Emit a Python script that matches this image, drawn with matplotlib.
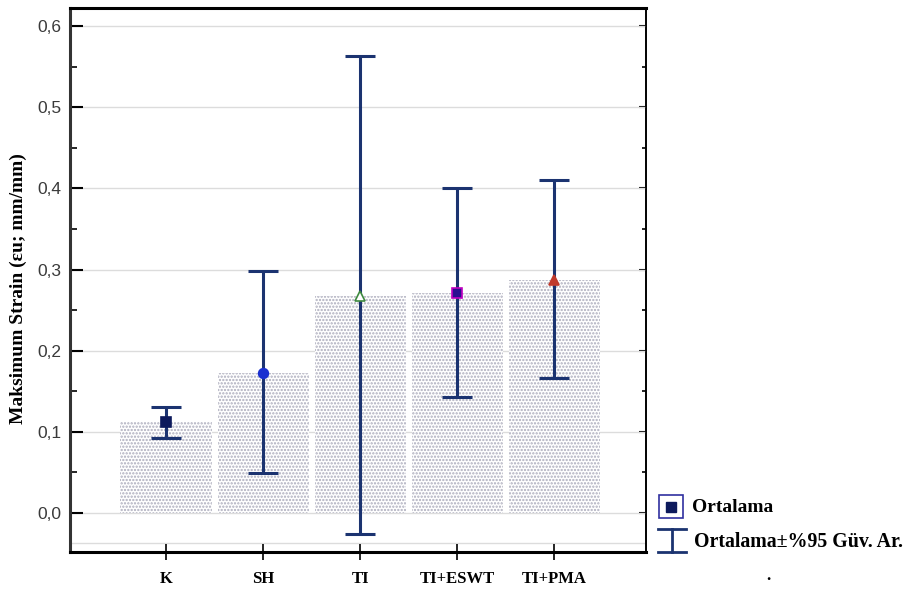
import numpy as np
import matplotlib
matplotlib.use('Agg')
import matplotlib.pyplot as plt
from matplotlib.patches import Rectangle
from matplotlib.lines import Line2D
from matplotlib.ticker import MultipleLocator, FuncFormatter

# Group means and 95% confidence limits
groups = ['K', 'SH', 'TI', 'TI+ESWT', 'TI+PMA']
means = [0.112, 0.173, 0.268, 0.271, 0.287]
ci_low = [0.093, 0.049, -0.026, 0.143, 0.167]
ci_high = [0.131, 0.298, 0.563, 0.400, 0.410]

markers = ['s', 'o', '^', 's', '^']
m_face = ['#0d1a5c', '#1a2fd0', 'white', '#2a1090', '#c0392b']
m_edge = ['#0d1a5c', '#1a2fd0', '#3f8a3f', '#c000c0', '#c0392b']

navy = '#1b3370'
plt.rcParams['hatch.linewidth'] = 1.1

fig = plt.figure(figsize=(9.11, 5.90), dpi=100)
ax = fig.add_axes([0.0768, 0.0644, 0.632, 0.9216])

x = np.arange(len(groups))

# stippled bars
ax.bar(x, means, width=0.94, color='white', edgecolor='#acacbc',
       hatch='.....', linewidth=0, zorder=2)

ax.yaxis.grid(True, color='#dcdcdc', linewidth=1.0, zorder=0)
ax.axhline(-0.037, color='#dcdcdc', linewidth=1.0, zorder=0)

lo = np.array(means) - np.array(ci_low)
hi = np.array(ci_high) - np.array(means)
ax.errorbar(x, means, yerr=[lo, hi], fmt='none', ecolor=navy,
            elinewidth=2.2, capsize=11, capthick=2.2, zorder=3)
for xi, m, mk, fc, ec in zip(x, means, markers, m_face, m_edge):
    ax.plot(xi, m, marker=mk, markersize=7, markerfacecolor=fc,
            markeredgecolor=ec, markeredgewidth=1.2, linestyle='none', zorder=4)

ax.set_xlim(-0.99, 4.94)
ax.set_ylim(-0.048, 0.622)
ax.yaxis.set_major_locator(MultipleLocator(0.1))
ax.yaxis.set_minor_locator(MultipleLocator(0.05))
ax.yaxis.set_major_formatter(FuncFormatter(lambda v, p: f'{v:.1f}'.replace('.', ',')))
ax.set_xticks(x)
ax.set_xticklabels(groups, fontfamily='Liberation Serif', fontweight='bold', fontsize=12)
ax.tick_params(axis='x', direction='inout', length=12, width=1.2, pad=8)
ax.tick_params(axis='y', which='major', direction='in', length=9, width=1.5,
               labelsize=12.5, labelcolor='#3a3a3a', pad=6)
ax.tick_params(axis='y', which='minor', direction='in', length=5, width=1.2)

# short inward ticks on the right frame
axr = ax.secondary_yaxis('right')
axr.yaxis.set_major_locator(MultipleLocator(0.1))
axr.yaxis.set_minor_locator(MultipleLocator(0.05))
axr.tick_params(axis='y', which='major', direction='in', length=5, width=1.5, labelright=False)
axr.tick_params(axis='y', which='minor', direction='in', length=3, width=1.2)
axr.spines['right'].set_linewidth(1.2)

for lab in ax.get_yticklabels():
    lab.set_fontfamily('Liberation Sans')

ax.set_ylabel('Maksimum Strain (εu; mm/mm)', fontfamily='Liberation Serif',
              fontweight='bold', fontsize=14)
ax.yaxis.set_label_coords(-0.074, 0.485)

for side in ['left', 'bottom', 'top']:
    ax.spines[side].set_linewidth(2.2)
ax.spines['left'].set_color('#333333')
ax.spines['right'].set_linewidth(1.2)

# legend drawn beside the axes
W, H = 911, 590
def fx(px):
    return px / W
def fy(py):
    return 1 - py / H

fig.add_artist(Rectangle((fx(659), fy(518)), fx(683) - fx(659), fy(495) - fy(518),
                         transform=fig.transFigure, fill=False,
                         edgecolor='#3030a0', linewidth=1.2))
fig.add_artist(Line2D([fx(671)], [fy(506.5)], marker='s', markersize=7,
                      color='#0d1a5c', transform=fig.transFigure))
fig.text(fx(692), fy(507), 'Ortalama', fontfamily='Liberation Serif',
         fontweight='bold', fontsize=14, va='center', ha='left')

fig.add_artist(Line2D([fx(658), fx(686)], [fy(529), fy(529)], color=navy,
                      linewidth=2, transform=fig.transFigure))
fig.add_artist(Line2D([fx(658), fx(686)], [fy(552), fy(552)], color=navy,
                      linewidth=2, transform=fig.transFigure))
fig.add_artist(Line2D([fx(672), fx(672)], [fy(529), fy(552)], color=navy,
                      linewidth=2, transform=fig.transFigure))
fig.text(fx(694), fy(542), 'Ortalama±%95 Güv. Ar.', fontfamily='Liberation Serif',
         fontweight='bold', fontsize=14.3, va='center', ha='left')
fig.text(fx(768), fy(576), '.', fontfamily='Liberation Serif',
         fontweight='bold', fontsize=12, va='center', ha='center')

fig.savefig('out.png', dpi=100)
